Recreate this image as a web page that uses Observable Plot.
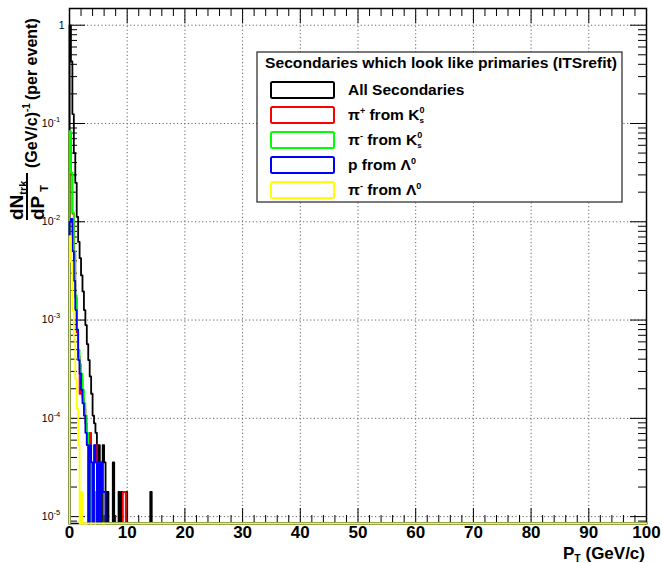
<!DOCTYPE html>
<html>
<head>
<meta charset="utf-8">
<script src="https://cdn.jsdelivr.net/npm/d3@7"></script>
<script src="https://cdn.jsdelivr.net/npm/@observablehq/plot@0.6"></script>
<style>
html, body { margin: 0; padding: 0; background: #fff; }
#chart { position: relative; width: 662px; height: 563px; }
</style>
</head>
<body>
<div id="chart"></div>
<script>
// ---- Data: histogram counts per 0.25 GeV/c bin, starting at pT = 0 ----
const binWidth = 0.25;          // GeV/c
const perCount = 1.78e-5;       // per-event normalisation of one entry
const seriesNames = ["All Secondaries", "pi+ from K0s", "pi- from K0s", "p from Lambda0", "pi- from Lambda0"];
const seriesColors = ["#000000", "#ff0000", "#00ff00", "#0000ff", "#ffff00"];

const allSecondaries = [56000, 24000, 7000, 2800, 1400, 630, 350, 240, 160, 110,
  71, 50, 32, 22, 15, 10, 6, 5, 4, 0,
  3, 2, 0, 3, 2, 0, 1, 0, 0, 0,
  2, 0, 0, 0, 1, 0, 1, 1, 1, 1,
  0, 0, 0, 0, 0, 0, 0, 0, 0, 0,
  0, 0, 0, 0, 0, 0, 1];
const piPlusFromK0s = [4400, 1700, 680, 260, 95, 42, 24, 10, 14, 9,
  7, 5, 3, 0, 4, 1, 0, 2, 3, 0,
  2, 2, 0, 0, 0, 0, 0, 0, 0, 0,
  0, 0, 0, 0, 0, 0, 0, 1, 1];
const piMinusFromK0s = [4700, 1780, 700, 280, 100, 45, 28, 20, 16, 11,
  8, 6, 4, 2, 3, 0, 2, 1, 0, 1,
  0, 1];
const pFromLambda = [560, 600, 282, 141, 71, 45, 22, 16, 11, 8,
  6, 4, 3, 0, 3, 2, 0, 3, 2, 0,
  2, 0, 2, 1, 1];
const piMinusFromLambda = [400, 220, 71, 35, 14, 7, 3, 0, 1];

const seriesCounts = [allSecondaries, piPlusFromK0s, piMinusFromK0s, pFromLambda, piMinusFromLambda];

// ---- Axis tick values ----
const xMajor = [0, 10, 20, 30, 40, 50, 60, 70, 80, 90, 100];
const xMinor = d3.range(2, 100, 2).filter(v => v % 10 !== 0);
const yMajor = [1, 1e-1, 1e-2, 1e-3, 1e-4, 1e-5];
const yPowers = [1e-1, 1e-2, 1e-3, 1e-4, 1e-5];
const yExponents = ["-1", "-2", "-3", "-4", "-5"];
const yGrid = [1, 1e-1, 1e-2, 1e-3, 1e-4, 1e-5];
const xGrid = [10, 20, 30, 40, 50, 60, 70, 80, 90];

const yMin = Math.pow(10, -5.07), yMax = Math.pow(10, 0.17);
const yMinor = [];
for (let e = -6; e <= 0; e++) for (let m = 2; m <= 9; m++) {
  const v = m * Math.pow(10, e);
  if (v > yMin && v < yMax) yMinor.push(v);
}

// ---- Build step-line points ----
function toPoints(counts, name) {
  const pts = [{series: name, pT: 0, v: yMin}];
  counts.forEach((c, i) => pts.push({series: name, pT: i * binWidth, v: c > 0 ? c * perCount : yMin}));
  pts.push({series: name, pT: counts.length * binWidth, v: yMin});
  pts.push({series: name, pT: 100, v: yMin});
  return pts;
}

const W = 662, H = 563;
const mL = 69, mR = 16, mT = 8, mB = 40;
const fw = W - mL - mR, fh = H - mT - mB;
const font = "Liberation Sans, Arial, Helvetica, sans-serif";

const lineMarks = seriesCounts.map((counts, i) =>
  Plot.line(toPoints(counts, seriesNames[i]), {
    x: "pT", y: "v", curve: "step-after",
    stroke: seriesColors[i], strokeWidth: 1.8
  })
);

const plot = Plot.plot({
  width: W, height: H,
  marginLeft: mL, marginRight: mR, marginTop: mT, marginBottom: mB,
  style: {background: "#fff", fontFamily: font},
  x: {domain: [0, 100], axis: null},
  y: {type: "log", domain: [yMin, yMax], axis: null},
  marks: [
    Plot.ruleX(xGrid, {x: d => d, stroke: "#666", strokeDasharray: "1.2,2.4", strokeWidth: 1}),
    Plot.ruleY(yGrid, {y: d => d, stroke: "#666", strokeDasharray: "1.2,2.4", strokeWidth: 1}),
    // ticks inside the frame, all four sides
    Plot.tickX(xMajor, {x: d => d, insetTop: fh - 15, stroke: "#000"}),
    Plot.tickX(xMajor, {x: d => d, insetBottom: fh - 15, stroke: "#000"}),
    Plot.tickX(xMinor, {x: d => d, insetTop: fh - 8, stroke: "#000"}),
    Plot.tickX(xMinor, {x: d => d, insetBottom: fh - 8, stroke: "#000"}),
    Plot.tickY(yMajor, {y: d => d, insetRight: fw - 16, stroke: "#000"}),
    Plot.tickY(yMajor, {y: d => d, insetLeft: fw - 16, stroke: "#000"}),
    Plot.tickY(yMinor, {y: d => d, insetRight: fw - 8, stroke: "#000"}),
    Plot.tickY(yMinor, {y: d => d, insetLeft: fw - 8, stroke: "#000"}),
    Plot.frame({stroke: "#000", strokeWidth: 1.5}),
    ...lineMarks,
    // x tick labels
    Plot.text(xMajor, {x: d => d, text: d => String(d), frameAnchor: "bottom", dy: 14,
      fontSize: 17, fontWeight: "bold", fill: "#000"}),
    // y tick labels: "1", then "10" with a raised exponent
    Plot.text([1], {y: d => d, text: () => "1", frameAnchor: "left", dx: -5,
      textAnchor: "end", fontSize: 10.5, fill: "#000"}),
    Plot.text(yPowers, {y: d => d, text: () => "10", frameAnchor: "left", dx: -16,
      textAnchor: "end", fontSize: 10.5, fill: "#000"}),
    Plot.text(yPowers, {y: d => d, text: (d, i) => yExponents[i], frameAnchor: "left", dx: -16, dy: -4,
      textAnchor: "start", fontSize: 7.5, fill: "#000"})
  ]
});

document.getElementById("chart").appendChild(plot);
const svg = d3.select(plot);

// helper: add a text made of parts; each part = {t, size, dy, dx}
function richText(parent, x, y, size, parts, anchor) {
  const t = parent.append("text").attr("x", x).attr("y", y).attr("font-size", size)
    .attr("text-anchor", anchor || "start");
  parts.forEach(p => {
    const s = t.append("tspan").text(p.t);
    if (p.size) s.attr("font-size", p.size);
    if (p.dy) s.attr("dy", p.dy);
    if (p.dx) s.attr("dx", p.dx);
  });
  return t;
}

// ---- y-axis title (rotated, with fraction) ----
{
  const g = svg.append("g").attr("transform", "translate(0,220) rotate(-90)")
    .attr("font-family", font).attr("font-weight", "bold").attr("fill", "#000")
    .attr("text-anchor", "start");
  richText(g, 0, 23, 19, [{t: "dN"}, {t: "trk", size: 11, dy: 4}]);
  g.append("line").attr("x1", 0).attr("x2", 47).attr("y1", 27).attr("y2", 27)
    .attr("stroke", "#000").attr("stroke-width", 2);
  richText(g, 0, 44, 19, [{t: "dP"}, {t: "T", size: 11, dy: 4, dx: 4}]);
  richText(g, 52, 37, 16, [{t: "(GeV/c)"}, {t: "-1", size: 10, dy: -7}, {t: "(per event)", dy: 7, dx: 3}]);
}

// ---- x-axis title ----
{
  const g = svg.append("g").attr("font-family", font).attr("font-weight", "bold").attr("fill", "#000");
  richText(g, 645, 559, 17, [{t: "P"}, {t: "T", size: 10.5, dy: 3}, {t: " (GeV/c)", dy: -3}], "end");
}

// ---- legend ----
{
  const lx = 257, ly = 52, lw = 365, lh = 150;
  const g = svg.append("g").attr("font-family", font).attr("font-weight", "bold").attr("fill", "#000")
    .attr("text-anchor", "start");
  g.append("rect").attr("x", lx).attr("y", ly).attr("width", lw).attr("height", lh)
    .attr("fill", "#fff").attr("stroke", "#222").attr("stroke-width", 1.2);
  g.append("text").attr("x", 265).attr("y", 68).attr("font-size", 14)
    .attr("textLength", 352).attr("lengthAdjust", "spacingAndGlyphs")
    .text("Secondaries which look like primaries (ITSrefit)");
  const rowsY = [90, 115, 140, 165, 190];
  const labelParts = [
    [{t: "All Secondaries"}],
    [{t: "\u03c0"}, {t: "+", size: 9, dy: -6}, {t: " from K", dy: 6}, {t: "0", size: 9, dy: -7}, {t: "s", size: 8, dx: -5, dy: 10}],
    [{t: "\u03c0"}, {t: "-", size: 9, dy: -6}, {t: " from K", dy: 6}, {t: "0", size: 9, dy: -7}, {t: "s", size: 8, dx: -5, dy: 10}],
    [{t: "p from \u039b"}, {t: "0", size: 9, dy: -6}],
    [{t: "\u03c0"}, {t: "-", size: 9, dy: -6}, {t: " from \u039b", dy: 6}, {t: "0", size: 9, dy: -6}]
  ];
  rowsY.forEach((cy, i) => {
    g.append("rect").attr("x", 271).attr("y", cy - 8).attr("width", 63).attr("height", 16)
      .attr("rx", 1.5).attr("fill", "#fff").attr("stroke", seriesColors[i]).attr("stroke-width", 2);
    richText(g, 348, cy + 5, 15.5, labelParts[i]);
  });
}
</script>
</body>
</html>
